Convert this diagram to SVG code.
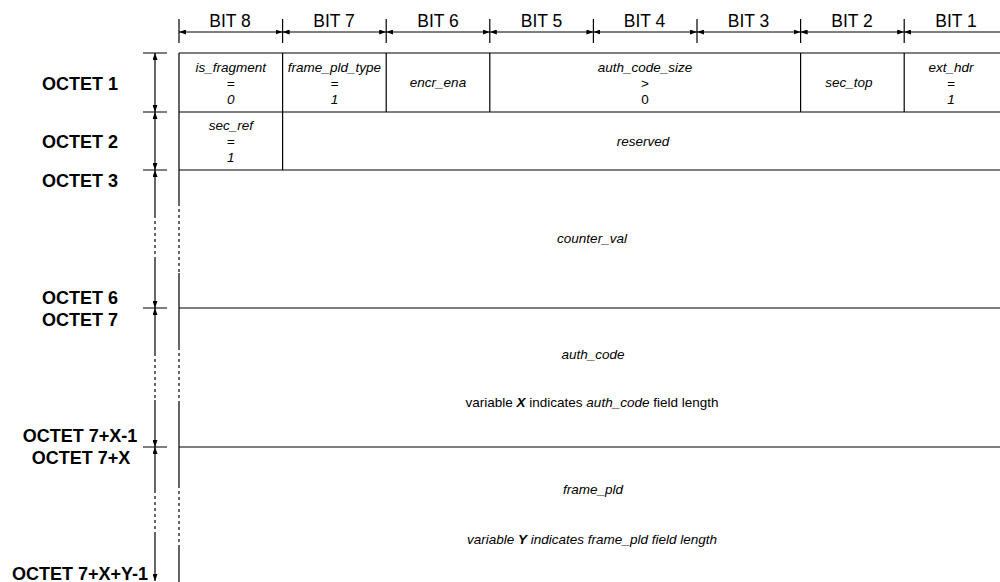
<svg xmlns="http://www.w3.org/2000/svg" width="1000" height="582" viewBox="0 0 1000 582">
<style>
.ln{stroke:#000;stroke-width:1.2;fill:none}
.dl{stroke:#000;stroke-width:1.2;fill:none;stroke-dasharray:3,3}
.bit{font-family:"Liberation Sans",Arial,sans-serif;font-size:17.5px;text-anchor:middle;fill:#000}
.oct{font-family:"Liberation Sans",Arial,sans-serif;font-size:18px;font-weight:bold;text-anchor:middle;fill:#000}
.f{font-family:"Liberation Sans",Arial,sans-serif;font-size:13.5px;font-style:italic;text-anchor:middle;fill:#000}
.r{font-style:normal}
.b{font-weight:bold;font-style:italic}
</style>
<defs>
<marker id="ah" viewBox="0 0 7 5" refX="7" refY="2.5" markerWidth="7" markerHeight="5" markerUnits="userSpaceOnUse" orient="auto-start-reverse">
<path d="M0,0 L7,2.5 L0,5 z" fill="#000"/>
</marker>
</defs>
<rect width="1000" height="582" fill="#fff"/>

<g id="connectors">
<path class="ln" d="M179,19V43 M282.6,19V43 M386.2,19V43 M489.8,19V43 M593.4,19V43 M697,19V43 M800.6,19V43 M904.2,19V43"/>
<line class="ln" x1="179" y1="32" x2="282.6" y2="32" marker-start="url(#ah)" marker-end="url(#ah)"/>
<line class="ln" x1="282.6" y1="32" x2="386.2" y2="32" marker-start="url(#ah)" marker-end="url(#ah)"/>
<line class="ln" x1="386.2" y1="32" x2="489.8" y2="32" marker-start="url(#ah)" marker-end="url(#ah)"/>
<line class="ln" x1="489.8" y1="32" x2="593.4" y2="32" marker-start="url(#ah)" marker-end="url(#ah)"/>
<line class="ln" x1="593.4" y1="32" x2="697" y2="32" marker-start="url(#ah)" marker-end="url(#ah)"/>
<line class="ln" x1="697" y1="32" x2="800.6" y2="32" marker-start="url(#ah)" marker-end="url(#ah)"/>
<line class="ln" x1="800.6" y1="32" x2="904.2" y2="32" marker-start="url(#ah)" marker-end="url(#ah)"/>
<line class="ln" x1="904.2" y1="32" x2="1000" y2="32" marker-start="url(#ah)"/>
<path class="ln" d="M143,53H167 M143,112H167 M143,170H167 M143,308H167 M143,447H167"/>
<line class="ln" x1="155" y1="53" x2="155" y2="112" marker-start="url(#ah)" marker-end="url(#ah)"/>
<line class="ln" x1="155" y1="112" x2="155" y2="170" marker-start="url(#ah)" marker-end="url(#ah)"/>
<line class="ln" x1="155" y1="170" x2="155" y2="215" marker-start="url(#ah)"/>
<line class="dl" x1="155" y1="215" x2="155" y2="257"/>
<line class="ln" x1="155" y1="257" x2="155" y2="308" marker-end="url(#ah)"/>
<line class="ln" x1="155" y1="308" x2="155" y2="353" marker-start="url(#ah)"/>
<line class="dl" x1="155" y1="353" x2="155" y2="400"/>
<line class="ln" x1="155" y1="400" x2="155" y2="447" marker-end="url(#ah)"/>
<line class="ln" x1="155" y1="447" x2="155" y2="490" marker-start="url(#ah)"/>
<line class="dl" x1="155" y1="490" x2="155" y2="535"/>
<line class="ln" x1="155" y1="535" x2="155" y2="581" marker-end="url(#ah)"/>
</g>

<g id="table">
<path class="ln" d="M179,53H1000 M179,112H1000 M179,170H1000 M179,308H1000 M179,447H1000"/>
<path class="ln" d="M179,53V203 M179,273V347 M179,403V485 M179,545V582"/>
<path class="dl" d="M179,203V273 M179,347V403 M179,485V545"/>
<path class="ln" d="M282.6,53V170 M386.2,53V112 M489.8,53V112 M800.6,53V112 M904.2,53V112"/>
</g>

<g id="bits">
<text class="bit" x="230" y="27">BIT 8</text>
<text class="bit" x="334" y="27">BIT 7</text>
<text class="bit" x="438" y="27">BIT 6</text>
<text class="bit" x="541.5" y="27">BIT 5</text>
<text class="bit" x="644.5" y="27">BIT 4</text>
<text class="bit" x="748.5" y="27">BIT 3</text>
<text class="bit" x="852" y="27">BIT 2</text>
<text class="bit" x="956" y="27">BIT 1</text>
</g>

<g id="octets">
<text class="oct" x="80" y="90">OCTET 1</text>
<text class="oct" x="80" y="148">OCTET 2</text>
<text class="oct" x="80" y="187">OCTET 3</text>
<text class="oct" x="80" y="304">OCTET 6</text>
<text class="oct" x="80" y="326">OCTET 7</text>
<text class="oct" x="80" y="442">OCTET 7+X-1</text>
<text class="oct" x="81" y="464">OCTET 7+X</text>
<text class="oct" x="80" y="580">OCTET 7+X+Y-1</text>
</g>

<g id="is_fragment">
<text class="f" x="230.8" y="71.5">is_fragment</text>
<text class="f" x="230.8" y="87.5">=</text>
<text class="f" x="230.8" y="103.5">0</text>
</g>
<g id="frame_pld_type">
<text class="f" x="334.4" y="71.5">frame_pld_type</text>
<text class="f" x="334.4" y="87.5">=</text>
<text class="f" x="334.4" y="103.5">1</text>
</g>
<g id="encr_ena">
<text class="f" x="438" y="87">encr_ena</text>
</g>
<g id="auth_code_size">
<text class="f" x="645" y="71.5">auth_code_size</text>
<text class="f r" x="645" y="87.5">&gt;</text>
<text class="f r" x="645" y="103.5">0</text>
</g>
<g id="sec_top">
<text class="f" x="849" y="87">sec_top</text>
</g>
<g id="ext_hdr">
<text class="f" x="951" y="71.5">ext_hdr</text>
<text class="f" x="951" y="87.5">=</text>
<text class="f" x="951" y="103.5">1</text>
</g>
<g id="sec_ref">
<text class="f" x="230.8" y="130">sec_ref</text>
<text class="f" x="230.8" y="146">=</text>
<text class="f" x="230.8" y="162">1</text>
</g>
<g id="reserved">
<text class="f" x="643" y="146">reserved</text>
</g>
<g id="counter_val">
<text class="f" x="592" y="243">counter_val</text>
</g>
<g id="auth_code">
<text class="f" x="593" y="359">auth_code</text>
<text class="f r" x="592" y="407">variable <tspan class="b">X</tspan> indicates <tspan font-style="italic">auth_code</tspan> field length</text>
</g>
<g id="frame_pld">
<text class="f" x="593" y="494">frame_pld</text>
<text class="f" x="592" y="544">variable <tspan class="b">Y</tspan> indicates frame_pld field length</text>
</g>
</svg>
